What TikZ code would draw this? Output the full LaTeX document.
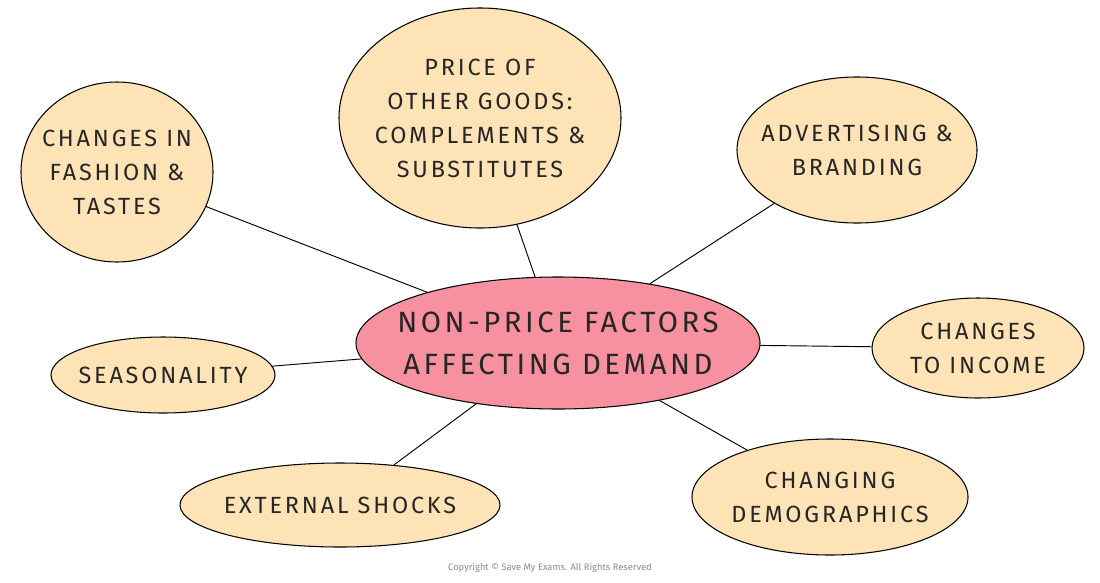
\documentclass[tikz,border=0pt]{standalone}
\usepackage{fontspec}
\setmainfont{Fira Sans}[LetterSpace=12]
\newfontfamily\cpfont{Fira Sans}
\usetikzlibrary{shapes.geometric}
\definecolor{pale}{HTML}{FDE3B6}
\definecolor{rose}{HTML}{F7909F}
\begin{document}
\begin{tikzpicture}[x=0.03cm,y=-0.03cm,
  bub/.style={ellipse,draw=black,line width=0.9pt,fill=pale,inner sep=-30pt,align=center,font=\fontsize{20}{29}\selectfont,text=black!85},
  lk/.style={line width=0.8pt}]
\useasboundingbox (0,0) rectangle (1100,582);
\node[bub,minimum width=5.76cm,minimum height=5.4cm] (fa) at (117,172) {CHANGES IN\\FASHION \&\\TASTES};
\node[bub,minimum width=8.46cm,minimum height=6.6cm] (po) at (480,118) {PRICE OF\\OTHER GOODS:\\COMPLEMENTS \&\\SUBSTITUTES};
\node[bub,minimum width=7.2cm,minimum height=4.38cm] (ad) at (857,150) {ADVERTISING \&\\BRANDING};
\node[bub,minimum width=6.36cm,minimum height=3.0cm] (in) at (978,348) {CHANGES\\TO INCOME};
\node[bub,minimum width=8.28cm,minimum height=3.48cm] (de) at (830,497) {CHANGING\\DEMOGRAPHICS};
\node[bub,minimum width=9.6cm,minimum height=2.52cm] (ex) at (340,505) {EXTERNAL SHOCKS};
\node[bub,minimum width=6.72cm,minimum height=2.28cm] (se) at (163,375) {SEASONALITY};
\node[bub,fill=rose,minimum width=12.12cm,minimum height=3.96cm,font=\fontsize{25}{36}\selectfont] (c) at (558,343) {NON-PRICE FACTORS\\AFFECTING DEMAND};
\draw[lk] (c) -- (fa);
\draw[lk] (c) -- (po);
\draw[lk] (c) -- (ad);
\draw[lk] (c) -- (in);
\draw[lk] (c) -- (de);
\draw[lk] (c) -- (ex);
\draw[lk] (c) -- (se);
\node[font=\cpfont\fontsize{8}{9}\selectfont,text=black!45] (cp) at (550,568) {Copyright © Save My Exams. All Rights Reserved};
\end{tikzpicture}
\end{document}
